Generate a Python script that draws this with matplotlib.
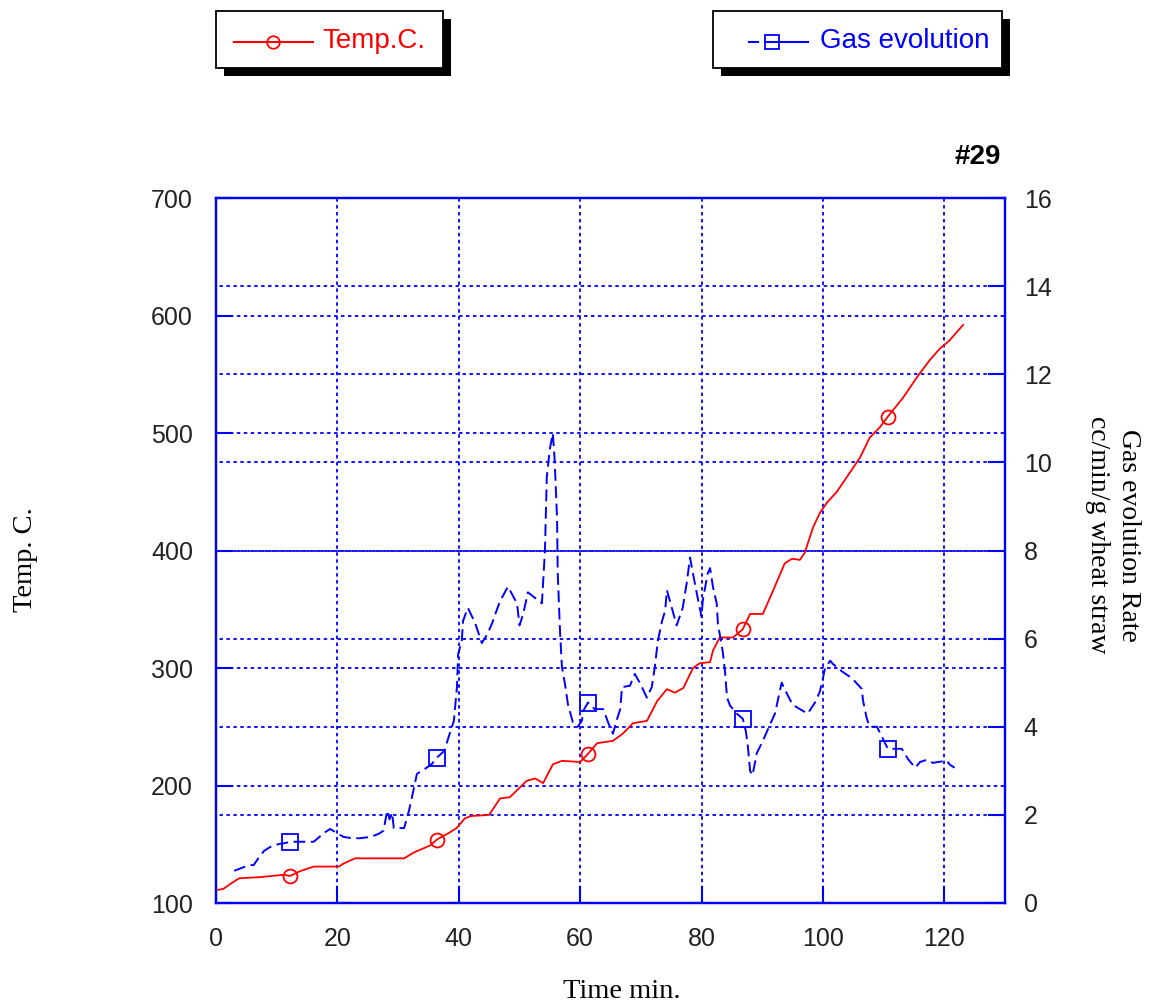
import numpy as np
import matplotlib
matplotlib.use('Agg')
import matplotlib.pyplot as plt
from matplotlib.lines import Line2D
from matplotlib.patches import Rectangle
from matplotlib.transforms import blended_transform_factory

# ---- data ----
temp_t = [0, 1.2, 2.3, 3.8, 7.2, 11.2, 12.2, 13.8, 16.1, 20.3, 20.8, 22.9, 31.0, 32.6,
          35.3, 36.4, 38.5, 39.7, 41.0, 42.0, 45.0, 46.8, 48.4, 50.0, 51.2, 52.6, 53.9,
          55.5, 57.0, 60.0, 61.3, 62.8, 65.4, 67.0, 68.7, 71.0, 72.7, 74.3, 75.6, 77.0,
          78.6, 79.7, 81.4, 81.9, 83.0, 85.2, 86.8, 88.0, 90.1, 91.8, 93.7, 94.9, 96.2,
          97.0, 98.4, 99.5, 100.7, 102.3, 104.4, 106.1, 107.7, 109.4, 110.7, 113.2,
          115.7, 117.6, 119.3, 120.9, 123.1]
temp_c = [111, 112, 116, 121, 122, 124, 123, 127, 131, 131, 133, 138, 138, 143,
          149, 154, 160, 164, 172, 174, 175, 189, 190, 198, 204, 206, 202,
          218, 221, 220, 227, 236, 238, 244, 253, 255, 272, 282, 279, 283,
          300, 304, 305, 315, 326, 326, 333, 346, 346, 366, 389, 393, 392,
          398, 420, 432, 441, 450, 466, 479, 496, 505, 514, 530,
          549, 562, 572, 579, 592]
temp_mark_t = [12.2, 36.4, 61.3, 86.8, 110.7]

gas_t = [3.0, 4.3, 5.6, 6.2, 7.0, 7.9, 8.9, 10.4, 11.4, 12.2, 14.7, 16.1, 17.8, 18.8,
         19.9, 21.0, 22.4, 23.7, 25.5, 26.8, 27.6, 28.2, 28.6, 29.0, 29.3, 31.0, 31.8,
         32.6, 33.1, 34.5, 35.6, 36.4, 37.6, 38.5, 39.2, 39.7, 39.8, 39.9, 40.5, 40.7,
         41.5, 42.7, 43.8, 44.7, 45.5, 46.0, 46.8, 48.1, 49.6, 50.0, 50.6, 51.4, 53.7,
         54.2, 54.5, 55.0, 55.5, 55.8, 56.2, 56.3, 56.7, 57.0, 57.5, 58.0, 58.8, 59.6,
         60.3, 60.5, 61.3, 62.4, 63.8, 64.6, 65.4, 66.0, 66.6, 66.9, 68.2, 69.0, 69.9,
         71.0, 71.8, 72.3, 72.8, 73.5, 74.0, 74.3, 75.1, 75.9, 76.9, 77.6, 78.1, 78.6,
         79.4, 80.0, 80.2, 81.0, 81.4, 81.9, 82.5, 82.7, 83.0, 83.5, 83.9, 84.2, 84.7,
         85.8, 86.8, 87.3, 87.6, 88.0, 88.4, 89.1, 90.1, 90.8, 92.1, 93.2, 94.0, 95.0,
         96.2, 97.5, 98.7, 99.5, 100.0, 100.3, 101.2, 101.6, 103.2, 104.8, 106.4, 106.6,
         107.2, 107.7, 108.9, 110.7, 113.0, 114.0, 115.2, 116.0, 117.1, 118.1, 120.4,
         120.9, 121.7]
gas_rate = [0.73, 0.80, 0.86, 0.86, 1.02, 1.18, 1.27, 1.34, 1.36, 1.39, 1.39, 1.39, 1.59, 1.68,
            1.59, 1.50, 1.47, 1.47, 1.50, 1.57, 1.64, 2.10, 1.90, 2.05, 1.70, 1.70, 2.10,
            2.60, 2.93, 3.05, 3.16, 3.30, 3.45, 3.84, 4.14, 4.90, 5.30, 5.65, 5.95, 6.40,
            6.70, 6.35, 5.90, 6.10, 6.35, 6.55, 6.85, 7.18, 6.80, 6.30, 6.55, 7.05, 6.80,
            8.00, 9.66, 10.30, 10.66, 10.05, 8.70, 7.50, 6.10, 5.35, 4.97, 4.50, 4.10, 4.00,
            4.14, 4.36, 4.55, 4.40, 4.40, 4.10, 3.84, 4.14, 4.40, 4.90, 4.93, 5.20, 4.98,
            4.66, 4.90, 5.35, 5.95, 6.40, 6.63, 7.10, 6.70, 6.30, 6.70, 7.30, 7.84, 7.47,
            6.90, 6.50, 6.86, 7.47, 7.60, 7.16, 6.80, 6.34, 6.10, 5.70, 5.20, 4.66, 4.48,
            4.30, 4.18, 3.90, 3.60, 3.00, 2.90, 3.40, 3.68, 3.90, 4.30, 5.00, 4.77, 4.50,
            4.40, 4.30, 4.55, 4.80, 5.10, 5.30, 5.50, 5.43, 5.25, 5.10, 4.86, 4.60,
            4.20, 4.00, 4.00, 3.50, 3.50, 3.27, 3.07, 3.20, 3.25, 3.18, 3.23,
            3.14, 3.07]
gas_mark_t = [12.2, 36.4, 61.3, 86.8, 110.7]

x_ticks = [0, 20, 40, 60, 80, 100, 120]
temp_ticks = [100, 200, 300, 400, 500, 600, 700]
gas_ticks = [0, 2, 4, 6, 8, 10, 12, 14, 16]

BLUE = '#0000ff'; RED = '#ff0000'
SANS = 'Liberation Sans'; SERIF = 'Liberation Serif'
plt.rcParams['lines.scale_dashes'] = False

W, H = 1154, 1005
def fx(x): return x / W
def fy(y): return 1 - y / H

fig = plt.figure(figsize=(W / 100, H / 100), dpi=100)
ax = fig.add_axes([fx(216), fy(903), (1005 - 216) / W, (903 - 198) / H])
ax2 = ax.twinx()

t_idx = [int(np.argmin(np.abs(np.array(temp_t) - m))) for m in temp_mark_t]
g_idx = [int(np.argmin(np.abs(np.array(gas_t) - m))) for m in gas_mark_t]

ax.plot(temp_t, temp_c, '-', color=RED, lw=1.3, marker='o', ms=10, mfc='none',
        mec=RED, mew=1.3, markevery=t_idx, zorder=3)
ax2.plot(gas_t, gas_rate, color=BLUE, lw=1.4, dashes=(8.5, 4), marker='s', ms=11,
         mfc='none', mec=BLUE, mew=1.3, markevery=g_idx, zorder=3)

ax.set_xlim(0, 130); ax.set_ylim(100, 700); ax2.set_ylim(0, 16)
ax.set_xticks(x_ticks); ax.set_yticks(temp_ticks); ax2.set_yticks(gas_ticks)

# grids: left & right dotted lines with complementary dash offsets (overlap looks solid)
ax.grid(axis='x', color=BLUE, lw=1.3, linestyle=(0, (2.5, 2.5)))
ax.grid(axis='y', color=BLUE, lw=1.3, linestyle=(0, (2.5, 2.5)))
ax.set_axisbelow(True)
tr = blended_transform_factory(ax.transAxes, ax2.transData)
for g in gas_ticks[1:-1]:
    ax.plot([0, 1], [g, g], transform=tr, color=BLUE, lw=1.3,
            linestyle=(2.5, (2.5, 2.5)), zorder=0.5)

for a in (ax, ax2):
    for s in a.spines.values():
        s.set_color(BLUE); s.set_linewidth(1.6)
ax.tick_params(axis='x', direction='in', length=12, width=1.5, color=BLUE,
               labelsize=18, pad=17, labelcolor='#222222')
ax.tick_params(axis='y', direction='in', length=12, width=1.5, color=BLUE,
               labelsize=18, pad=16.5, labelcolor='#222222')
ax2.tick_params(axis='y', direction='in', length=12, width=1.5, color=BLUE,
                labelsize=18, pad=13.5, labelcolor='#222222')
for lab in ax.get_xticklabels() + ax.get_yticklabels() + ax2.get_yticklabels():
    lab.set_fontfamily(SANS)

# axis titles
fig.text(fx(622), fy(991), 'Time min.', ha='center', va='center',
         fontsize=20.5, family=SERIF)
fig.text(fx(26), fy(560), 'Temp. C.', ha='center', va='center', rotation=90,
         fontsize=20.5, family=SERIF)
fig.text(fx(1113), fy(535), 'Gas evolution Rate\ncc/min/g wheat straw', ha='center',
         va='center', rotation=-90, fontsize=20, family=SERIF, linespacing=1.3,
         multialignment='center')
fig.text(fx(1001), fy(157), '#29', ha='right', va='center', fontsize=20,
         fontweight='bold', family=SANS)

# legend boxes with black drop shadow
def legend_box(x0, x1, y0, y1):
    sh = 8
    fig.patches.append(Rectangle((fx(x0 + sh), fy(y1 + sh)), (x1 - x0) / W, (y1 - y0) / H,
                                 transform=fig.transFigure, fc='black', ec='black', lw=0))
    fig.patches.append(Rectangle((fx(x0), fy(y1)), (x1 - x0) / W, (y1 - y0) / H,
                                 transform=fig.transFigure, fc='white', ec='black', lw=1.3))

legend_box(216, 443, 11, 68)
fig.lines.append(Line2D([fx(234), fx(273), fx(313)], [fy(42)] * 3, transform=fig.transFigure,
                        color=RED, lw=1.5, marker='o', ms=9, mfc='none', mec=RED,
                        mew=1.3, markevery=[1]))
fig.text(fx(322), fy(41), 'Temp.C.', ha='left', va='center', fontsize=20, color=RED,
         family=SANS)

legend_box(713, 1002, 11, 68)
fig.lines.append(Line2D([fx(749), fx(758)], [fy(42)] * 2, transform=fig.transFigure,
                        color=BLUE, lw=1.5))
fig.lines.append(Line2D([fx(765), fx(772), fx(808)], [fy(42)] * 3, transform=fig.transFigure,
                        color=BLUE, lw=1.5, marker='s', ms=10, mfc='none', mec=BLUE,
                        mew=1.3, markevery=[1]))
fig.text(fx(820), fy(41), 'Gas evolution', ha='left', va='center', fontsize=20,
         color=BLUE, family=SANS)

fig.savefig('out.png', dpi=100)
